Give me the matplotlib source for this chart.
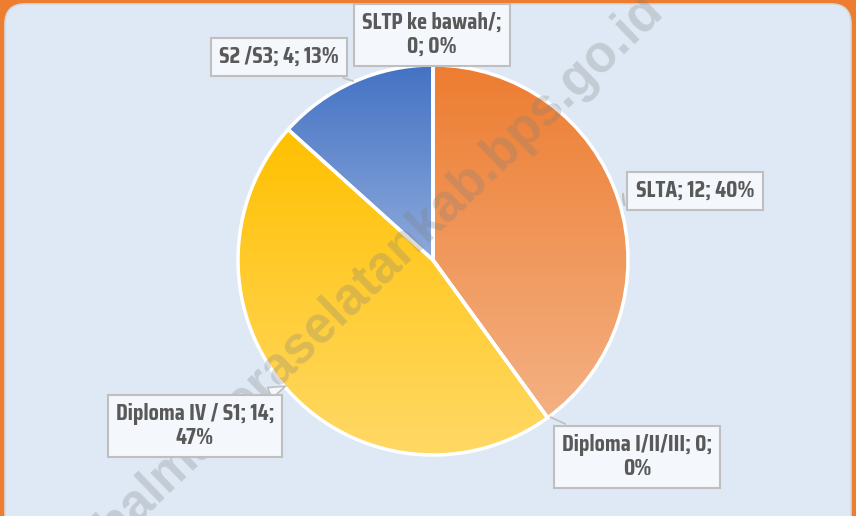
import numpy as np
import matplotlib.pyplot as plt
from matplotlib.patches import FancyBboxPatch
from matplotlib.colors import LinearSegmentedColormap

categories = ['SLTP ke bawah/', 'SLTA', 'Diploma I/II/III', 'Diploma IV / S1', 'S2 /S3']
values = [0, 12, 0, 14, 4]
# where the label text wraps onto a second line (after which part)
wrap_after = [1, 0, 2, 2, 0]
top_colors = ['#a5a5a5', '#ED7D31', '#a5a5a5', '#FFC000', '#4472C4']
bottom_colors = ['#c9c9c9', '#F4B183', '#c9c9c9', '#FFD966', '#8EAADB']

W, H = 856, 516
fig = plt.figure(figsize=(W / 100, H / 100), dpi=100)
fig.patch.set_facecolor('#ED7D31')
ax = fig.add_axes([0, 0, 1, 1])
ax.set_facecolor('#ED7D31')

# inner rounded panel
panel = FancyBboxPatch((5 + 20, -30 + 20), 846 - 40, 542 - 40,
                       boxstyle='round,pad=20', fc='#DEE9F5', ec='#D3D9E0', lw=1.2, zorder=0)
ax.add_patch(panel)

cx, cy, r = 433, H - 260, 195
wedges, _ = ax.pie(values, center=(cx, cy), radius=r, startangle=90, counterclock=False,
                   frame=True, wedgeprops=dict(edgecolor='white', linewidth=2.5, facecolor='none', zorder=3))

for w, v, c0, c1 in zip(wedges, values, top_colors, bottom_colors):
    if v == 0:
        continue
    ext = w.get_path().get_extents()
    cmap = LinearSegmentedColormap.from_list('g', [c0, c1])
    grad = np.linspace(0, 1, 256).reshape(-1, 1)
    im = ax.imshow(grad, cmap=cmap, extent=(ext.x0, ext.x1, ext.y0, ext.y1),
                   origin='upper', aspect='auto', zorder=2, interpolation='bilinear')
    im.set_clip_path(w)

total = sum(values)
labels = []
for name, v, wa in zip(categories, values, wrap_after):
    parts = [name, str(v), '%d%%' % round(100 * v / total)]
    if wa:
        txt = '; '.join(parts[:wa]) + ';\n' + '; '.join(parts[wa:])
    else:
        txt = '; '.join(parts)
    labels.append(txt)

# label box positions (pixel coords) and the point the pointer goes to
label_pos = [(432, 35), (695, 191), (637, 457), (195, 426), (279, 57)]
point_pos = [(432, 62), (620, 200), (548, 416), (288, 385), (356, 82)]
styles = ['none', 'wedge', 'line', 'wedge', 'line']

bbox = dict(boxstyle='square,pad=0.35', fc='#F4F7FB', ec='#BFBFBF', lw=1.5)
for txt, (lx, ly), (px, py), st in zip(labels, label_pos, point_pos, styles):
    if st == 'wedge':
        ap = dict(arrowstyle='wedge,tail_width=0.5,shrink_factor=0.5', fc='#F4F7FB', ec='#BFBFBF', lw=1.2)
    elif st == 'line':
        ap = dict(arrowstyle='-', color='#BFBFBF', lw=1.2)
    else:
        ap = None
    ax.annotate(txt, xy=(px, H - py), xytext=(lx, H - ly), ha='center', va='center',
                fontsize=17, fontweight='bold', color='#595959', linespacing=1.1,
                family=['Saira Condensed', 'DejaVu Sans'],
                bbox=bbox, arrowprops=ap, zorder=6)

# watermark
ax.text(380, H - 268, 'halmaheraselatankab.bps.go.id', rotation=44, ha='center', va='center',
        fontsize=37, fontweight='bold', color='#7f7f7f', alpha=0.28, zorder=5,
        family=['Liberation Sans', 'DejaVu Sans'], rotation_mode='anchor')

ax.set_xlim(0, W)
ax.set_ylim(0, H)
ax.set_aspect('auto')
ax.axis('off')
fig.savefig('out.png', dpi=100, facecolor=fig.get_facecolor())
